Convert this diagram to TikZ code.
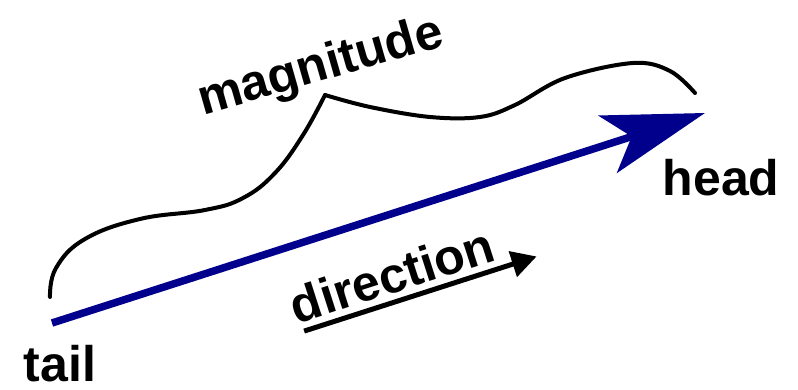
\documentclass[tikz,border=0pt]{standalone}
\usepackage{fontspec}
\setmainfont{Liberation Sans}
\usetikzlibrary{arrows.meta,positioning,calc}
\definecolor{vecblue}{RGB}{0,0,140}

\begin{document}
\begin{tikzpicture}[x=1pt, y=1pt,
      lbl/.style = {font=\bfseries\fontsize{50}{60}\selectfont, inner sep=0pt},
      vec/.style = {draw=vecblue, line width=7.5pt,
        -{Stealth[length=102pt, width=60pt, inset=25pt]}},
      brace/.style = {line width=4pt, line cap=round},
      dirline/.style = {line width=5pt, -{Triangle[length=25pt, width=26pt]}}]
      \useasboundingbox (0,0) rectangle (798,390);

      \coordinate (tailpt) at (52,67);
      \coordinate (headpt) at (705,277);
      \draw[vec] (tailpt) -- (headpt);

      \node[lbl] (tail) [below=22pt of tailpt, xshift=8pt] {tail};
      \node[lbl] (head) [below=46pt of headpt, xshift=16pt] {head};

      % wavy brace over the vector
      \draw[brace] plot[smooth, tension=0.7] coordinates {(50,93) (56,122)
        (85,151) (140,171) (205,180) (243,192) (275,217) (303,255) (325,295)};
      \draw[brace] plot[smooth, tension=0.6] coordinates {(325,295) (370,283)
        (430,273) (480,273) (515,285) (565,312) (633,327) (670,319)
        (695,297)};
      \node[lbl, rotate=16] (mag) at (321,322) {magnitude};

      \node[lbl, rotate=17.8, inner sep=8pt] (dir) at (392,115) {direction};
      \draw[dirline] ($(dir.south west)!0.057!(dir.south east)$)
        -- ($(dir.south west)!1.13!(dir.south east)$);
\end{tikzpicture}
\end{document}
